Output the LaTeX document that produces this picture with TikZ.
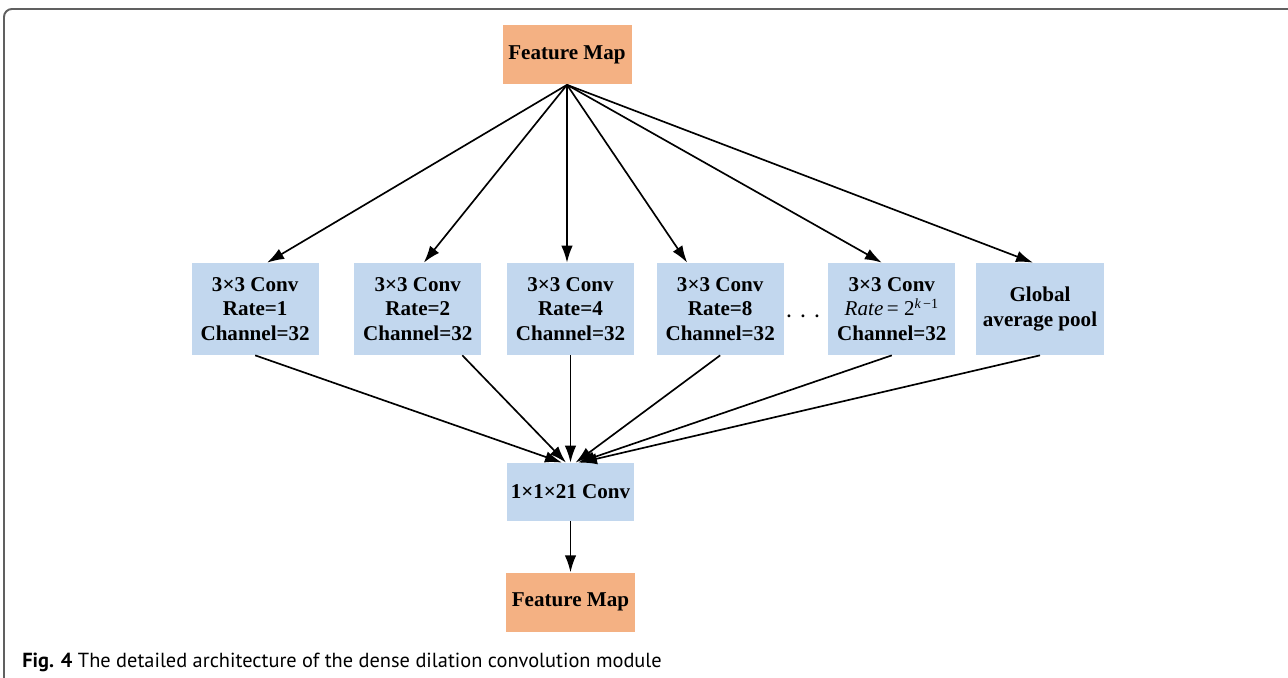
\documentclass[tikz,border=0pt]{standalone}
\usepackage{fontspec}
\setmainfont{Liberation Serif}
\newfontfamily\capfont{PT Sans}
\usepackage{xcolor}
\usepackage{tikz}
\usetikzlibrary{arrows.meta, positioning}
\definecolor{mapfill}{HTML}{F4B183}
\definecolor{convfill}{HTML}{C2D7EE}
\definecolor{framegray}{HTML}{606060}
\tikzstyle{featmap} = [rectangle, minimum width=2.54cm, minimum height=1.18cm, text centered, fill=mapfill, font=\fontsize{12}{14}\selectfont\bfseries]
\tikzstyle{convbox} = [rectangle, minimum width=2.54cm, minimum height=1.84cm, align=center, fill=convfill, inner sep=1pt, font=\fontsize{12}{14}\selectfont\bfseries]
\tikzstyle{arrow} = [line width=0.95pt, -{Latex[length=3.4mm, width=2.3mm]}]

\begin{document}
\begin{tikzpicture}[x=0.02cm, y=-0.02cm]
				\useasboundingbox (0,0) rectangle (1288,678);
				
				% frame round the figure
				\draw [framegray, line width=1.1pt, rounded corners=4.5pt] (4,700) -- (4,9) -- (1300,9);
				
				\node (fmin) [featmap] at (567,55) {Feature Map};
				
				% row of parallel branches
				\node (c3) [convbox] at (570.5,309) {3×3 Conv\\Rate=4\\Channel=32};
				\node (c2) [convbox, left=0.5cm of c3] {3×3 Conv\\Rate=2\\Channel=32};
				\node (c1) [convbox, left=0.7cm of c2] {3×3 Conv\\Rate=1\\Channel=32};
				\node (c4) [convbox, right=0.44cm of c3] {3×3 Conv\\Rate=8\\Channel=32};
				\node (ck) [convbox, right=0.88cm of c4] {3×3 Conv\\{\mdseries\itshape Rate\,}{\mdseries = 2\textsuperscript{\itshape k\,\upshape −1}}\\Channel=32};
				\node (gap) [convbox, right=0.4cm of ck, minimum width=2.56cm] {Global\\average pool};
				\node (dots) at (803,316) {\bfseries .\hspace{5.5pt}.\hspace{5.5pt}.};
				
				\node (fuse) [convbox, minimum height=1.16cm] at (570.5,492) {1×1×21 Conv};
				\node (fmout) [featmap, below=1.02cm of fuse] {Feature Map};
				
				\draw [arrow] (fmin.south) -- ([xshift=0.24cm]c1.north);
				\draw [arrow] (fmin.south) -- ([xshift=0.12cm]c2.north);
				\draw [arrow] (fmin.south) -- ([xshift=-0.07cm]c3.north);
				\draw [arrow] (fmin.south) -- ([xshift=-0.66cm]c4.north);
				\draw [arrow] (fmin.south) -- ([xshift=-0.2cm]ck.north);
				\draw [arrow] (fmin.south) -- ([xshift=-0.14cm]gap.north);
				
				\draw [arrow] (c1.south) -- ([xshift=-0.17cm]fuse.north);
				\draw [arrow] ([xshift=0.89cm]c2.south) -- ([xshift=-0.09cm]fuse.north);
				\draw [arrow] (c3.south) -- (fuse.north);
				\draw [arrow] (c4.south) -- ([xshift=0.1cm]fuse.north);
				\draw [arrow] (ck.south) -- ([xshift=0.15cm]fuse.north);
				\draw [arrow] (gap.south) -- ([xshift=0.19cm]fuse.north);
				
				\draw [arrow] (fuse) -- (fmout);
				
				\node (caption) [anchor=base west, inner sep=0pt, font=\capfont\fontsize{11.6}{13}\selectfont] at (22,667) {{\bfseries Fig. 4} The detailed architecture of the dense dilation convolution module};
				
			\end{tikzpicture}
\end{document}
